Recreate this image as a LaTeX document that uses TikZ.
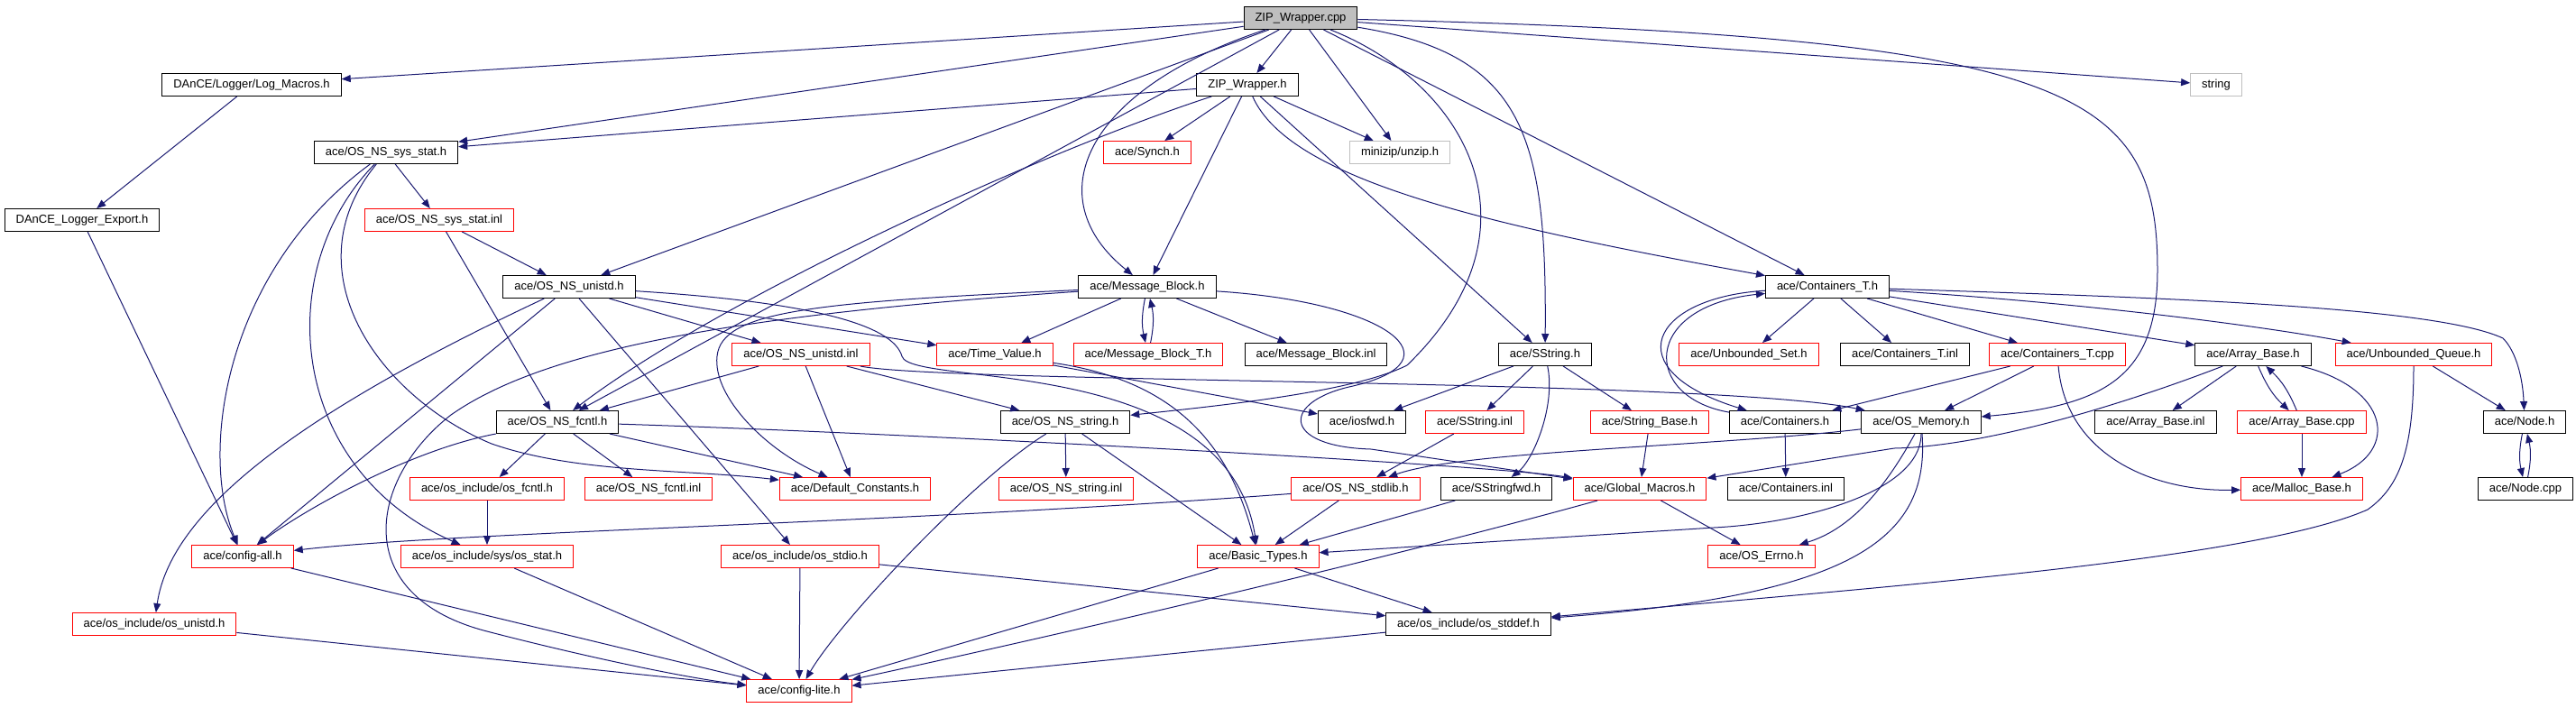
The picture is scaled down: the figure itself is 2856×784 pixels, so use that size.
\documentclass[tikz,border=0pt]{standalone}
\usepackage{fontspec}
\setmainfont{Liberation Sans}
\usetikzlibrary{arrows.meta}
\definecolor{depblue}{RGB}{25,25,112}
\definecolor{filegray}{RGB}{191,191,191}
\begin{document}
\begin{tikzpicture}[x=0.5pt,y=-0.5pt]
\tikzset{file/.style = {shape=rectangle,draw=black,line width=0.5pt,fill=white,inner xsep=6.25pt,inner ysep=0pt,minimum height=12.5pt,font=\fontsize{6.5}{7.8}\selectfont,text height=4.8pt,text depth=1.4pt}}
\tikzset{cut/.style = {file,draw=red}}
\tikzset{ext/.style = {file,draw=filegray}}
\tikzset{root/.style = {file,fill=filegray}}
\tikzset{dep/.style = {-{Triangle[length=5pt,width=4pt]},draw=depblue,line width=0.5pt}}
\useasboundingbox (0,0) rectangle (2856,784);
% vertices
\node[root] (cpp) at (1442,20) {ZIP\_Wrapper.cpp};
\node[file] (logm) at (279,94) {DAnCE/Logger/Log\_Macros.h};
\node[file] (zwh) at (1383,94) {ZIP\_Wrapper.h};
\node[ext] (str) at (2457,94) {string};
\node[file] (sysstat) at (428,169) {ace/OS\_NS\_sys\_stat.h};
\node[cut] (synch) at (1272,169) {ace/Synch.h};
\node[ext] (unzip) at (1552,169) {minizip/unzip.h};
\node[file] (logexp) at (91,244) {DAnCE\_Logger\_Export.h};
\node[cut] (sysstatinl) at (487,244) {ace/OS\_NS\_sys\_stat.inl};
\node[file] (unistd) at (631,318) {ace/OS\_NS\_unistd.h};
\node[file] (mb) at (1272,318) {ace/Message\_Block.h};
\node[file] (contT) at (2026,318) {ace/Containers\_T.h};
\node[cut] (unistdinl) at (888,393) {ace/OS\_NS\_unistd.inl};
\node[cut] (tv) at (1103,393) {ace/Time\_Value.h};
\node[cut] (mbT) at (1273,393) {ace/Message\_Block\_T.h};
\node[file] (mbinl) at (1459,393) {ace/Message\_Block.inl};
\node[file] (sstr) at (1713,393) {ace/SString.h};
\node[cut] (uset) at (1939,393) {ace/Unbounded\_Set.h};
\node[file] (contTinl) at (2112,393) {ace/Containers\_T.inl};
\node[cut] (contTcpp) at (2281,393) {ace/Containers\_T.cpp};
\node[file] (ab) at (2498,393) {ace/Array\_Base.h};
\node[cut] (uq) at (2676,393) {ace/Unbounded\_Queue.h};
\node[file] (fcntl) at (618,468) {ace/OS\_NS\_fcntl.h};
\node[file] (osstr) at (1181,468) {ace/OS\_NS\_string.h};
\node[file] (iosfwd) at (1510,468) {ace/iosfwd.h};
\node[cut] (sstrinl) at (1635,468) {ace/SString.inl};
\node[cut] (strbase) at (1829,468) {ace/String\_Base.h};
\node[file] (cont) at (1979,468) {ace/Containers.h};
\node[file] (osmem) at (2130,468) {ace/OS\_Memory.h};
\node[file] (abinl) at (2390,468) {ace/Array\_Base.inl};
\node[cut] (abcpp) at (2552,468) {ace/Array\_Base.cpp};
\node[file] (node) at (2799,468) {ace/Node.h};
\node[cut] (osfcntl) at (540,542) {ace/os\_include/os\_fcntl.h};
\node[cut] (fcntlinl) at (719,542) {ace/OS\_NS\_fcntl.inl};
\node[cut] (defc) at (948,542) {ace/Default\_Constants.h};
\node[cut] (osstrinl) at (1182,542) {ace/OS\_NS\_string.inl};
\node[cut] (stdlib) at (1503,542) {ace/OS\_NS\_stdlib.h};
\node[file] (sstrfwd) at (1659,542) {ace/SStringfwd.h};
\node[cut] (gm) at (1818,542) {ace/Global\_Macros.h};
\node[file] (continl) at (1980,542) {ace/Containers.inl};
\node[cut] (malloc) at (2552,542) {ace/Malloc\_Base.h};
\node[file] (nodecpp) at (2800,542) {ace/Node.cpp};
\node[cut] (cfgall) at (269,617) {ace/config-all.h};
\node[cut] (osstat) at (540,617) {ace/os\_include/sys/os\_stat.h};
\node[cut] (osstdio) at (887,617) {ace/os\_include/os\_stdio.h};
\node[cut] (bt) at (1395,617) {ace/Basic\_Types.h};
\node[cut] (errno) at (1953,617) {ace/OS\_Errno.h};
\node[cut] (osunistd) at (171,692) {ace/os\_include/os\_unistd.h};
\node[file] (stddef) at (1628,692) {ace/os\_include/os\_stddef.h};
\node[cut] (cfglite) at (886,766) {ace/config-lite.h};
%edges
\draw[dep] (cpp) to (logm);
\draw[dep] (cpp) to (sysstat);
\draw[dep] (cpp) to (zwh);
\draw[dep] (cpp) to (unzip);
\draw[dep] (cpp) to (str);
\draw[dep] (cpp) .. controls (2300,40) and (2392,100) .. (2392,300) .. controls (2392,420) and (2330,450) .. (osmem);
\draw[dep] (cpp) to (contT);
\draw[dep] (cpp) .. controls (1690,60) and (1715,150) .. (sstr);
\draw[dep] (cpp) .. controls (1620,90) and (1720,250) .. (1560,405) .. controls (1500,435) and (1350,450) .. (osstr);
\draw[dep] (cpp) .. controls (1200,100) and (1150,220) .. (mb);
\draw[dep] (cpp) to (unistd);
\draw[dep] (cpp) to (fcntl);
\draw[dep] (zwh) to (sysstat);
\draw[dep] (zwh) to (synch);
\draw[dep] (zwh) to (unzip);
\draw[dep] (zwh) to (mb);
\draw[dep] (zwh) .. controls (1150,170) and (800,330) .. (fcntl);
\draw[dep] (zwh) to (sstr);
\draw[dep] (zwh) .. controls (1430,200) and (1650,250) .. (contT);
\draw[dep] (logm) to (logexp);
\draw[dep] (logexp) to (cfgall);
\draw[dep] (sysstat) to (sysstatinl);
\draw[dep] (sysstat) .. controls (250,300) and (220,500) .. (cfgall);
\draw[dep] (sysstat) .. controls (300,300) and (320,520) .. (osstat);
\draw[dep] (sysstat) .. controls (320,300) and (420,440) .. (545,492) .. controls (640,525) and (760,520) .. (defc);
\draw[dep] (sysstatinl) to (unistd);
\draw[dep] (sysstatinl) to (fcntl);
\draw[dep] (unistd) to (unistdinl);
\draw[dep] (unistd) .. controls (350,450) and (190,560) .. (osunistd);
\draw[dep] (unistd) to (cfgall);
\draw[dep] (unistd) to (osstdio);
\draw[dep] (unistd) to (tv);
\draw[dep] (unistd) .. controls (900,335) and (990,360) .. (1000,395) .. controls (1010,430) and (1360,390) .. (bt);
\draw[dep] (unistdinl) to (fcntl);
\draw[dep] (unistdinl) to (defc);
\draw[dep] (unistdinl) to (osstr);
\draw[dep] (unistdinl) .. controls (1050,425) and (1900,420) .. (osmem);
\draw[dep] (fcntl) .. controls (450,500) and (330,570) .. (cfgall);
\draw[dep] (fcntl) to (osfcntl);
\draw[dep] (fcntl) to (fcntlinl);
\draw[dep] (fcntl) to (defc);
\draw[dep] (fcntl) .. controls (1000,480) and (1650,515) .. (gm);
\draw[dep] (osfcntl) to (osstat);
\draw[dep] (mb) to (tv);
\draw[dep] (mb) to[bend right=12] (mbT);
\draw[dep] (mbT) to[bend right=12] (mb);
\draw[dep] (mb) to (mbinl);
\draw[dep] (mb) .. controls (1540,335) and (1620,400) .. (1500,428) .. controls (1420,445) and (1420,495) .. (1520,498) -- (gm);
\draw[dep] (mb) .. controls (900,335) and (800,345) .. (795,395) .. controls (790,440) and (850,500) .. (defc);
\draw[dep] (mb) .. controls (800,350) and (600,390) .. (500,460) .. controls (410,530) and (385,660) .. (540,700) .. controls (640,726) and (760,752) .. (cfglite);
\draw[dep] (tv) to (iosfwd);
\draw[dep] (tv) .. controls (1290,420) and (1360,480) .. (bt);
\draw[dep] (osstr) to (osstrinl);
\draw[dep] (osstr) to (bt);
\draw[dep] (osstr) .. controls (1080,530) and (930,690) .. (cfglite);
\draw[dep] (sstr) to (iosfwd);
\draw[dep] (sstr) to (sstrinl);
\draw[dep] (sstr) to (strbase);
\draw[dep] (sstr) .. controls (1725,450) and (1700,510) .. (sstrfwd);
\draw[dep] (sstrinl) to (stdlib);
\draw[dep] (strbase) to (gm);
\draw[dep] (contT) to (uset);
\draw[dep] (contT) to (contTinl);
\draw[dep] (contT) to (contTcpp);
\draw[dep] (contT) to (ab);
\draw[dep] (contT) .. controls (2300,335) and (2500,360) .. (uq);
\draw[dep] (contT) .. controls (2400,330) and (2700,340) .. (2775,375) .. controls (2790,390) and (2797,420) .. (node);
\draw[dep] (contT) .. controls (1830,330) and (1790,410) .. (cont);
\draw[dep] (cont) .. controls (1820,440) and (1820,340) .. (contT);
\draw[dep] (cont) to (continl);
\draw[dep] (contTcpp) to (cont);
\draw[dep] (contTcpp) to (osmem);
\draw[dep] (contTcpp) .. controls (2290,500) and (2380,545) .. (malloc);
\draw[dep] (osmem) .. controls (1900,495) and (1620,500) .. (stdlib);
\draw[dep] (osmem) .. controls (2130,545) and (2000,580) .. (1900,585) -- (bt);
\draw[dep] (osmem) .. controls (2080,560) and (2040,590) .. (errno);
\draw[dep] (osmem) .. controls (2140,600) and (2050,660) .. (stddef);
\draw[dep] (ab) .. controls (2350,450) and (2200,495) .. (2100,497) -- (gm);
\draw[dep] (ab) to (abinl);
\draw[dep] (ab) to[bend right=12] (abcpp);
\draw[dep] (abcpp) to[bend right=12] (ab);
\draw[dep] (ab) .. controls (2650,430) and (2660,500) .. (malloc);
\draw[dep] (abcpp) to (malloc);
\draw[dep] (uq) to (node);
\draw[dep] (uq) .. controls (2676,500) and (2660,540) .. (2625,565) .. controls (2500,620) and (2100,650) .. (stddef);
\draw[dep] (node) to[bend right=12] (nodecpp);
\draw[dep] (nodecpp) to[bend right=12] (node);
\draw[dep] (stdlib) .. controls (1000,580) and (500,590) .. (cfgall);
\draw[dep] (stdlib) to (bt);
\draw[dep] (sstrfwd) to (bt);
\draw[dep] (gm) to (errno);
\draw[dep] (gm) .. controls (1500,630) and (1100,720) .. (cfglite);
\draw[dep] (bt) to (cfglite);
\draw[dep] (bt) to (stddef);
\draw[dep] (osstdio) to (cfglite);
\draw[dep] (osstdio) to (stddef);
\draw[dep] (stddef) to (cfglite);
\draw[dep] (osstat) to (cfglite);
\draw[dep] (cfgall) to (cfglite);
\draw[dep] (osunistd) to (cfglite);
\end{tikzpicture}
\end{document}
